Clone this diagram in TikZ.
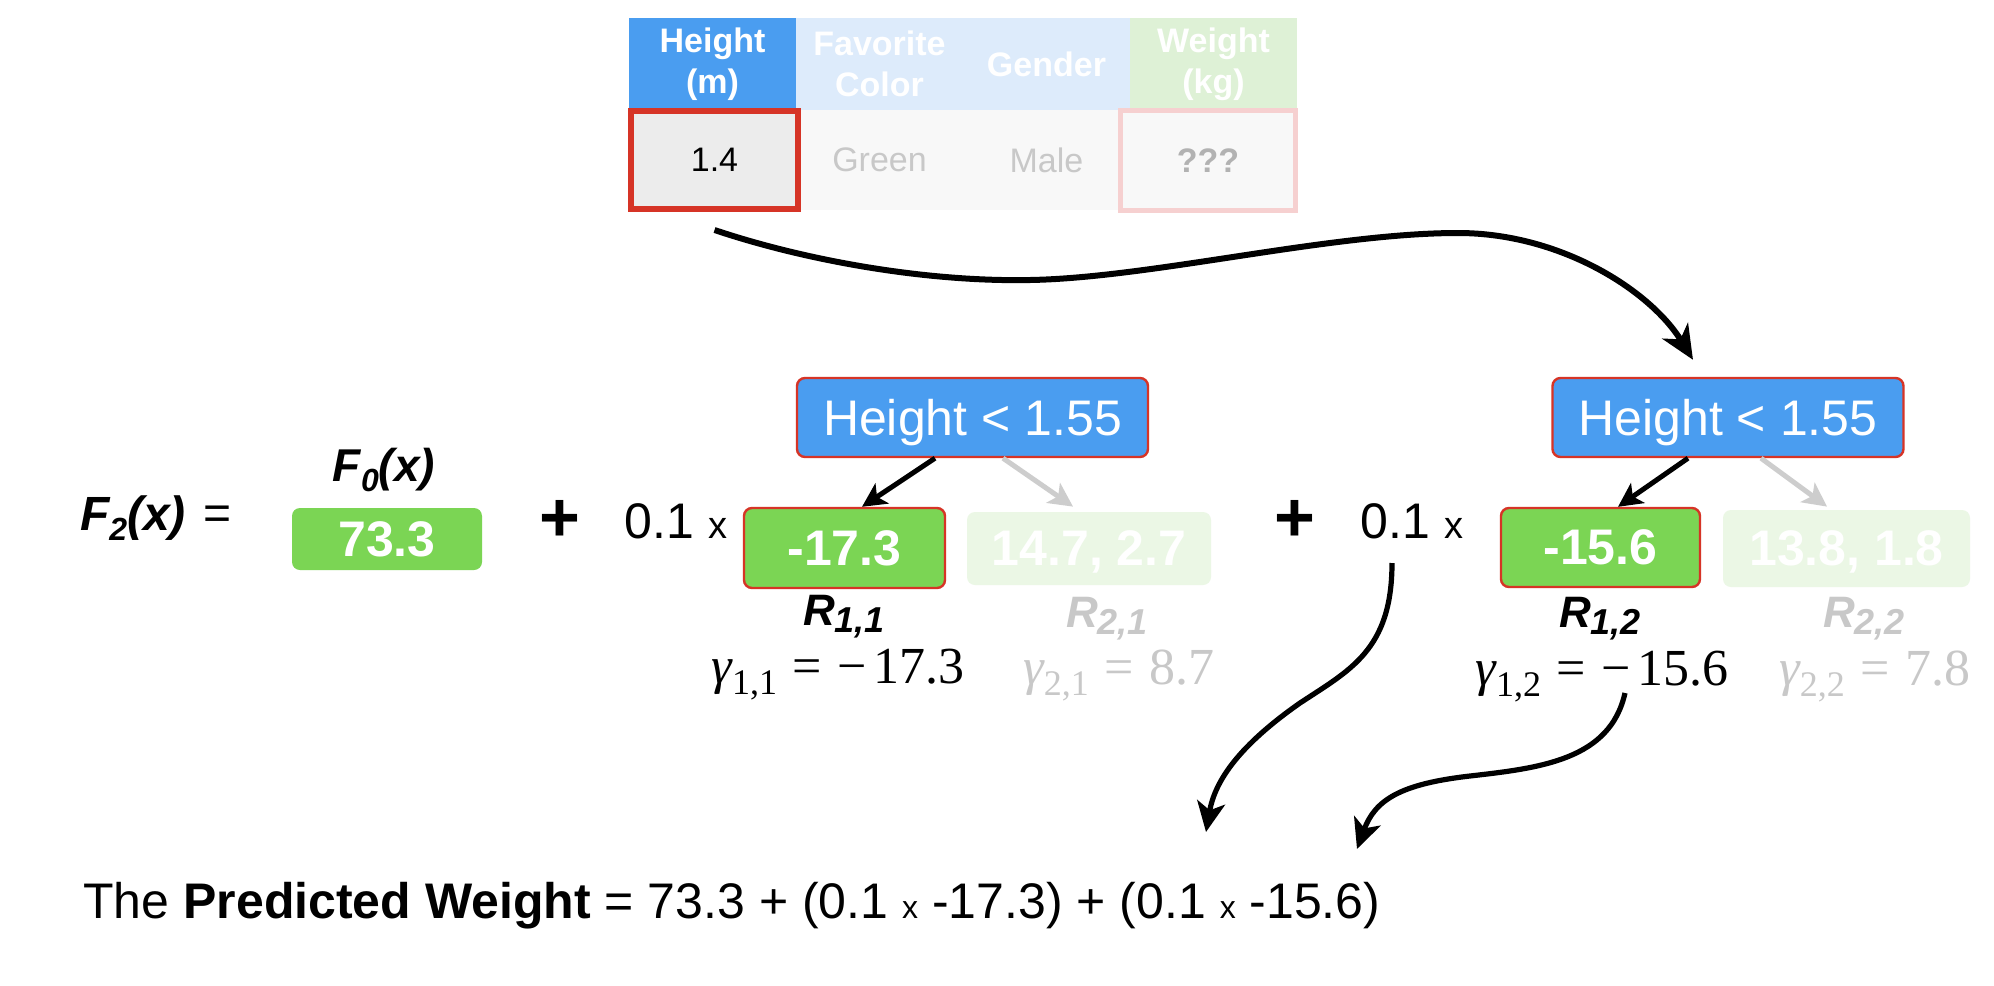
\documentclass[tikz,border=0pt]{standalone}
\usepackage{fontspec}
\setmainfont{Liberation Sans}
\newfontfamily\tms{Liberation Serif}
\usetikzlibrary{arrows.meta}
\definecolor{hblue}{RGB}{74,157,240}
\definecolor{lblue}{RGB}{221,235,251}
\definecolor{lgreenh}{RGB}{222,241,214}
\definecolor{gbox}{RGB}{123,213,84}
\definecolor{pgbox}{RGB}{235,247,229}
\definecolor{rborder}{RGB}{214,52,38}
\definecolor{pred}{RGB}{246,208,208}
\definecolor{fgray}{RGB}{200,200,200}
\definecolor{agray}{RGB}{205,205,205}
\definecolor{cellg}{RGB}{236,236,236}
\definecolor{cellw}{RGB}{248,248,248}
\newcommand{\fsz}[2]{\fontsize{#1pt}{#2pt}\selectfont}
\newcommand{\lowsub}[3]{\raisebox{-#3em}{\fontsize{#1pt}{#1pt}\selectfont #2}}
\newcommand{\gm}[2]{{\itshape γ}\lowsub{18}{#1}{0.22}\hspace{0.3em}=\hspace{0.3em}#2}
\begin{document}
\begin{tikzpicture}[x=0.5pt,y=-0.5pt,
  hdr/.style={minimum width=83.5pt, minimum height=46pt, inner sep=0pt, align=center, text=white, font=\fsz{17}{20.5}\bfseries},
  cell/.style={minimum width=83.5pt, minimum height=50pt, inner sep=0pt, font=\fsz{17}{19}},
  cond/.style={rounded corners=4pt, fill=hblue, draw=rborder, line width=1.2pt, text=white, font=\fsz{25}{25}, minimum width=175.5pt, minimum height=39.5pt, inner sep=0pt, text depth=0pt},
  leaf/.style={rounded corners=4pt, fill=gbox, text=white, font=\fsz{25}{25}\bfseries, inner sep=0pt, text depth=0pt},
  sel/.style={draw=rborder, line width=1.2pt},
  pleaf/.style={rounded corners=4pt, fill=pgbox, text=white, font=\fsz{25}{25}\bfseries, inner sep=0pt, text depth=0pt},
  rlab/.style={font=\fsz{22}{22}\bfseries\itshape, inner sep=0pt, anchor=base},
  glab/.style={font=\tms\fsz{26}{26}, inner sep=0pt, anchor=base},
  plus/.style={font=\fsz{35}{35}\bfseries, inner sep=0pt},
  mult/.style={font=\fsz{25}{25}, inner sep=0pt, anchor=base},
  arr/.style={line width=3pt, -{Stealth[length=17pt,width=15pt,inset=5pt]}},
  tarr/.style={line width=2.5pt, -{Stealth[length=12pt,width=12pt,inset=3pt]}},
  barr/.style={line width=2.6pt, -{Stealth[length=15pt,width=14pt,inset=4pt]}}
]
\fill[white] (0,0) rectangle (1994,986);
\useasboundingbox (0,0) rectangle (1994,986);

% table
\node[hdr, fill=hblue] (hh) at (712.5,64) {Height\\(m)};
\node[hdr, fill=lblue] (hf) at (879.5,64) {Favorite\\Color};
\node[hdr, fill=lblue] (hg) at (1046.5,64) {Gender};
\node[hdr, fill=lgreenh] (hw) at (1213.5,64) {Weight\\(kg)};
\node[cell, fill=cellw, text=fgray] (c2) at (879.5,160) {Green};
\node[cell, fill=cellw, text=fgray] (c3) at (1046.5,160) {Male};
\node[cell, fill=cellw, text=black!30, font=\fsz{17}{19}\bfseries, draw=pred, line width=2.5pt, minimum width=87.5pt] (c4) at (1208,160.5) {???};
\node[cell, fill=cellg, draw=rborder, line width=3pt, minimum height=49pt] (c1) at (714.5,160) {1.4};

% left formula
\node[font=\fsz{24}{24}\bfseries\itshape, inner sep=0pt] (f2) at (133,518) {F\lowsub{16}{2}{0.2}(x)};
\node[font=\fsz{24}{24}, inner sep=0pt] (eq) at (218,518) {=};
\node[font=\fsz{23}{23}\bfseries\itshape, inner sep=0pt] (f0) at (384,470) {F\lowsub{16}{0}{0.2}(x)};
\node[leaf, minimum width=95pt, minimum height=31pt] (v0) at (387,539) {73.3};
\node[plus] (p1) at (560,521) {+};
\node[mult] (m1) at (676,538) {0.1\hspace{0.28em}{\fsz{19}{19}x}};

% tree 1
\node[cond] (t1) at (972.5,417.5) {Height < 1.55};
\node[leaf, sel, minimum width=100.5pt, minimum height=40pt] (l11) at (844.5,548) {-17.3};
\node[pleaf, minimum width=122pt, minimum height=36.5pt] (l21) at (1089,548.5) {14.7, 2.7};
\draw[tarr] ([xshift=-18.75pt]t1.south) -- ([xshift=8.75pt]l11.north);
\draw[tarr, agray] ([xshift=15.25pt]t1.south) -- ([xshift=-8pt,yshift=2.5pt]l21.north);
\node[rlab] (r11) at (844,625) {R\lowsub{18}{1,1}{0.18}};
\node[rlab, text=fgray] (r21) at (1107,627) {R\lowsub{18}{2,1}{0.18}};
\node[glab] (g11) at (838,683) {\gm{1,1}{−\hspace{0.12em}17.3}};
\node[glab, text=fgray] (g21) at (1119,684) {\gm{2,1}{8.7}};

% tree 2
\node[plus] (p2) at (1295,521) {+};
\node[mult] (m2) at (1412,538) {0.1\hspace{0.28em}{\fsz{19}{19}x}};
\node[cond] (t2) at (1728,417.5) {Height < 1.55};
\node[leaf, sel, minimum width=99.5pt, minimum height=39.5pt] (l12) at (1600.5,547.5) {-15.6};
\node[pleaf, minimum width=123.5pt, minimum height=38.5pt] (l22) at (1846.5,548.5) {13.8, 1.8};
\draw[tarr] ([xshift=-20pt]t2.south) -- ([xshift=8.75pt]l12.north);
\draw[tarr, agray] ([xshift=16.5pt]t2.south) -- ([xshift=-9.75pt,yshift=1.5pt]l22.north);
\node[rlab] (r12) at (1600,627) {R\lowsub{18}{1,2}{0.18}};
\node[rlab, text=fgray] (r22) at (1864,627) {R\lowsub{18}{2,2}{0.18}};
\node[glab] (g12) at (1602,685) {\gm{1,2}{−\hspace{0.12em}15.6}};
\node[glab, text=fgray] (g22) at (1875,685) {\gm{2,2}{7.8}};

% bottom text
\node[anchor=base west, font=\fsz{25}{25}, inner sep=0pt] (pred) at (83,918) {The \textbf{Predicted Weight} = 73.3 + (0.1 {\fsz{16}{16}x} -17.3) + (0.1 {\fsz{16}{16}x} -15.6)};

% big arrow
\coordinate (bA) at (1030,280);
\coordinate (bB) at (1458,233);
\draw[arr] ([yshift=-9pt]c1.south) .. controls (810,262) and (930,282) .. (bA)
  .. controls (1150,278) and (1330,233) .. (bB)
  .. controls (1560,233) and (1650,290) .. ([xshift=-17.5pt,yshift=8.5pt]t2.north);

% bottom arrows
\coordinate (s1) at (1392,563);
\coordinate (cA) at (1300,703);
\coordinate (e1) at (1206,832);
\draw[barr] (s1) .. controls (1392,650) and (1350,670) .. (cA)
  .. controls (1240,745) and (1215,780) .. (e1);
\coordinate (s2) at (1625,693);
\coordinate (cB) at (1470,776);
\coordinate (e2) at (1357,849);
\draw[barr] (s2) .. controls (1610,760) and (1540,768) .. (cB)
  .. controls (1400,784) and (1375,800) .. (e2);
\end{tikzpicture}
\end{document}
